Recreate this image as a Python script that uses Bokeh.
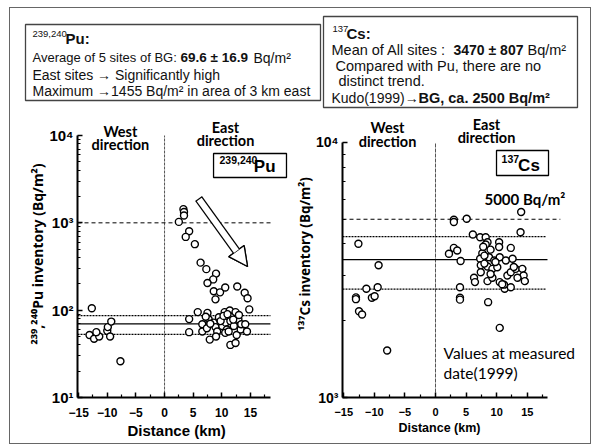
from bokeh.plotting import figure
from bokeh.layouts import column, row
from bokeh.models import (Range1d, Label, Arrow, NormalHead, FixedTicker,
                          CustomJSTickFormatter, BoxAnnotation, Title)
from bokeh.core.properties import value
from bokeh.embed import file_html
from bokeh.resources import INLINE

# ---------------- data ----------------
pu_dist = [-12.7, -13.1, -12.3, -11.4, -11.9, -10.0, -9.9, -9.3, -9.5, -7.7,
           3.3, 3.4, 3.4, 2.5, 4.3, 3.7, 5.3, 6.3, 7.3, 9.0,
           8.5, 7.5, 8.6, 9.7, 10.6, 8.9, 12.7, 14.0, 14.5, 14.8,
           4.3, 4.3, 5.8, 6.6, 6.6, 7.5, 7.7, 7.4, 7.9, 8.6,
           8.9, 9.2, 9.5, 10.1, 10.5, 10.7, 10.9, 10.6, 11.2, 11.4,
           11.6, 11.5, 11.5, 12.1, 12.4, 12.4, 12.6, 12.9, 13.3, 13.4,
           14.1, 14.4, 8.0, 9.8, 10.3, 11.0, 12.0, 13.0, 7.2, 9.0]
pu_inv = [105, 52, 47, 50, 56, 58, 64, 74, 50, 26,
          1435, 1330, 1215, 1025, 800, 690, 570, 350, 295, 262,
          225, 205, 165, 160, 182, 133, 187, 158, 137, 102,
          79, 56, 95, 69, 57, 93, 79, 62, 46, 72,
          64, 57, 83, 66, 95, 72, 60, 55, 57, 99,
          84, 75, 40, 66, 95, 42, 52, 79, 60, 69,
          69, 57, 70, 75, 86, 90, 78, 88, 84, 50]

cs_dist = [-12.6, -9.3, -11.3, -9.45, -13.0, -13.0, -10.4, -9.95, -12.5, -12.0, -7.9,
           3.0, 3.0, 5.1, 14.0, 13.9, 6.1, 7.3, 8.2, 8.5, 10.4,
           10.4, 8.2, 12.3, 3.0, 3.55, 2.2, 4.1, 7.65, 7.3, 8.75,
           9.6, 10.5, 11.5, 12.6, 7.4, 8.5, 9.3, 10.1, 7.4, 6.3,
           6.45, 8.5, 9.3, 10.5, 11.3, 12.3, 11.2, 11.75, 12.3, 13.1,
           14.2, 14.4, 14.6, 13.4, 4.0, 4.0, 4.0, 8.6, 10.5,
           8.0, 9.0, 9.8, 8.0, 7.8, 9.0, 12.8, 10.9]
cs_inv = [4010, 3300, 2670, 2705, 2470, 2430, 2460, 2495, 2180, 2115, 1529,
          4980, 4880, 5020, 5340, 4445, 4355, 4250, 4250, 4065, 4065,
          3890, 3980, 3860, 3860, 3770, 3660, 3430, 3680, 3500, 3550,
          3445, 3550, 3445, 3500, 3300, 3265, 3195, 3240, 3100, 2950,
          2835, 2860, 2950, 2835, 2670, 2705, 2770, 3010, 3100, 3195,
          3195, 3010, 2860, 2950, 2705, 2460, 2420, 2365, 1875,
          3600, 3800, 3400, 3350, 3900, 3050, 3250, 2780]

pu_bg_mean, pu_bg_sd, pu_guide, pu_max = 69.6, 16.9, 1000, 1455
cs_mean, cs_sd, cs_guide, cs_kudo = 3470, 807, 5000, 2500
x_ticks = [-15, -10, -5, 0, 5, 10, 15]

SANS = "Liberation Sans"
CAL = "Lato"

# ---------------- top text panel ----------------
top = figure(width=580, height=102, x_range=Range1d(0, 580), y_range=Range1d(102, 0),
             x_axis_type=None, y_axis_type=None, toolbar_location=None,
             output_backend="svg", min_border=0, outline_line_color=None)
top.quad(left=[15, 313], right=[310, 567], top=[16, 8], bottom=[92, 99],
         fill_color=None, line_color="#444444", line_width=1.3)


def txt(fig, x, y, s, size, bold=False, font=SANS):
    fig.text(x=[x], y=[y], text=[s], text_font=value(font),
             text_font_size=f"{size}px",
             text_font_style="bold" if bold else "normal",
             text_baseline="middle", text_align="left", text_color="#111111")


txt(top, 22, 25, "239,240", 9.5)
txt(top, 55, 30, "Pu:", 15, True)
txt(top, 22, 49, "Average of  5 sites of BG: ", 13)
txt(top, 170, 49, f"{pu_bg_mean} ± {pu_bg_sd}", 13.5, True)
txt(top, 243, 49, "Bq/m²", 14)
txt(top, 22, 66, "East sites →  Significantly high", 14)
txt(top, 22, 82, f"Maximum →{pu_max} Bq/m² in area of 3 km east", 14)

txt(top, 322, 20, "137", 9.5)
txt(top, 336, 25, "Cs:", 15, True)
txt(top, 321, 41, "Mean of  All sites :", 14.5)
txt(top, 443, 41, f"{cs_mean} ± {cs_sd}", 14, True)
txt(top, 517, 41, "Bq/m²", 14.5)
txt(top, 325, 57, "Compared with Pu, there are no", 14.5)
txt(top, 328, 72, "distinct trend.", 14.5)
txt(top, 321, 89, "Kudo(1999)→", 14)
txt(top, 408, 89, f"BG, ca. {cs_kudo} Bq/m²", 14.5, True)

# ---------------- plots ----------------
sup_fmt = CustomJSTickFormatter(code="""
const s = {0:'⁰',1:'¹',2:'²',3:'³',4:'⁴',5:'⁵'};
return '10' + s[Math.round(Math.log10(tick))];
""")


def style(p, ylabel, ymajor, yminor, xb, yb, lab_size, tick_size, xtick_size, xlab_size,
          xlab_offset, ylab_offset):
    p.xgrid.grid_line_color = None
    p.ygrid.grid_line_color = None
    p.outline_line_color = None
    p.xaxis.ticker = FixedTicker(ticks=x_ticks, minor_ticks=[t + 2.5 for t in x_ticks])
    p.yaxis.ticker = FixedTicker(ticks=ymajor, minor_ticks=yminor)
    p.yaxis.formatter = sup_fmt
    p.xaxis.bounds = xb
    p.yaxis.bounds = yb
    for ax in (p.xaxis[0], p.yaxis[0]):
        ax.axis_line_width = 2
        ax.axis_line_color = "black"
        ax.major_tick_in = 5
        ax.major_tick_out = 0
        ax.minor_tick_in = 3
        ax.minor_tick_out = 0
        ax.major_tick_line_width = 1.5
        ax.minor_tick_line_width = 1.2
        ax.major_label_text_font = SANS
        ax.major_label_text_font_style = "bold"
        ax.major_label_text_color = "black"
    p.xaxis.major_label_text_font_size = f"{xtick_size}px"
    p.yaxis.major_label_text_font_size = f"{tick_size}px"
    p.xaxis.major_label_standoff = 10
    p.yaxis.major_label_standoff = 4
    p.add_layout(Title(text="Distance  (km)", align="left", offset=xlab_offset, standoff=0,
                       text_font=SANS, text_font_size=f"{xlab_size}px",
                       text_font_style="bold", text_color="black"), "below")
    p.add_layout(Title(text=ylabel, align="center", offset=ylab_offset, standoff=0,
                       text_font="Noto Sans", text_font_size=f"{lab_size}px",
                       text_font_style="bold", text_color="black"), "left")


def minors(e0, e1):
    return [m * 10 ** e for e in range(e0, e1) for m in range(2, 10)]


def hline(p, xb, v, dash=None, width=1.2):
    kw = dict(line_color="black", line_width=width)
    if dash:
        kw["line_dash"] = dash
    p.segment(x0=[xb[0]], y0=[v], x1=[xb[1]], y1=[v], **kw)


# Pu plot
pu_xb, pu_yb = (-15.2, 18.5), (10, 10000)
pu = figure(width=280, height=333, x_range=Range1d(-15.2, 22.0), y_range=Range1d(10, 19335),
            y_axis_type="log", toolbar_location=None, output_backend="svg",
            min_border_left=67, min_border_right=0, min_border_top=0, min_border_bottom=46)
style(pu, "²³⁹,²⁴⁰Pu inventory (Bq/m²)", [10, 100, 1000, 10000], minors(1, 4),
      pu_xb, pu_yb, 14, 15, 12, 15, 50, 22)

pu.segment(x0=[0], y0=[pu_yb[0]], x1=[0], y1=[pu_yb[1]], line_color="#555555",
           line_width=1, line_dash="3 1")
hline(pu, (pu_xb[0], 18.9), pu_guide, "4 3", 1)
hline(pu, pu_xb, pu_bg_mean)
hline(pu, pu_xb, pu_bg_mean + pu_bg_sd, "2 1")
hline(pu, pu_xb, pu_bg_mean - pu_bg_sd, "2 1")

pu.scatter(pu_dist, pu_inv, marker="circle", size=7, fill_color="white",
           line_color="black", line_width=1.4)

# hollow arrow
ax0, ay0, ax1, ay1 = 5.94, 1897, 14.5, 316
pu.add_layout(Arrow(end=NormalHead(size=19, fill_color="white", line_color="black", line_width=1.3),
                    x_start=ax0, y_start=ay0, x_end=ax1, y_end=ay1,
                    line_width=8.5, line_color="black"))
pu.add_layout(Arrow(end=NormalHead(size=19, fill_color="white", line_color="black", line_width=1.3),
                    x_start=ax0 + 0.12, y_start=ay0 * 0.975, x_end=ax1, y_end=ay1,
                    line_width=6, line_color="white"))

for x, yo, t in [(-7.7, 4, "West"), (-7.7, -9, "direction"), (10.65, 8, "East"), (10.65, -5, "direction")]:
    pu.add_layout(Label(x=x, y=10000, y_offset=yo, text=t, text_align="center", text_baseline="middle",
                        text_font=CAL, text_font_size="14.5px", text_font_style="bold", text_color="black"))
pu.add_layout(BoxAnnotation(left=8.56, right=21.3, bottom=3304, top=6224, fill_color="white",
                            fill_alpha=1, line_color="black", line_alpha=1, line_width=1.3))
pu.add_layout(Label(x=9.6, y=5300, text="239,240", text_align="left", text_baseline="middle",
                    text_font=SANS, text_font_size="10.5px", text_font_style="bold", text_color="black"))
pu.add_layout(Label(x=15.6, y=4400, text="Pu", text_align="left", text_baseline="middle",
                    text_font=SANS, text_font_size="17px", text_font_style="bold", text_color="black"))

# Cs plot
cs_xb, cs_yb = (-15.2, 18.3), (1000, 10000)
cs = figure(width=300, height=333, x_range=Range1d(-15.2, 25.33), y_range=Range1d(1000, 13350),
            y_axis_type="log", toolbar_location=None, output_backend="svg",
            min_border_left=52, min_border_right=0, min_border_top=0, min_border_bottom=46)
style(cs, "¹³⁷Cs inventory (Bq/m²)", [1000, 10000], minors(3, 4),
      cs_xb, cs_yb, 13.5, 14, 11, 12.5, 56, 44)

cs.segment(x0=[0], y0=[cs_yb[0]], x1=[0], y1=[cs_yb[1]], line_color="#555555",
           line_width=1, line_dash="4 1")
hline(cs, (cs_xb[0], 20.4), cs_guide, "4 3", 1)
hline(cs, cs_xb, cs_mean)
hline(cs, (cs_xb[0], 18.0), cs_mean + cs_sd, "2 1")
hline(cs, (cs_xb[0], 18.0), cs_mean - cs_sd, "2 1")

cs.scatter(cs_dist, cs_inv, marker="circle", size=7, fill_color="white",
           line_color="black", line_width=1.4)

for x, yo, t in [(-7.84, 15, "West"), (-7.84, 1, "direction"), (8.33, 18, "East"), (8.33, 5, "direction")]:
    cs.add_layout(Label(x=x, y=10000, y_offset=yo, text=t, text_align="center", text_baseline="middle",
                        text_font=CAL, text_font_size="14.5px", text_font_style="bold", text_color="black"))
cs.add_layout(BoxAnnotation(left=9.97, right=18.47, bottom=7423, top=9303, fill_color="white",
                            fill_alpha=1, line_color="black", line_alpha=1, line_width=1.3))
cs.add_layout(Label(x=10.8, y=8650, text="137", text_align="left", text_baseline="middle",
                    text_font=SANS, text_font_size="10.5px", text_font_style="bold", text_color="black"))
cs.add_layout(Label(x=13.5, y=8150, text="Cs", text_align="left", text_baseline="middle",
                    text_font=SANS, text_font_size="17px", text_font_style="bold", text_color="black"))
cs.add_layout(Label(x=8.0, y=5977, text=f"{cs_guide} Bq/m²", text_align="left", text_baseline="middle",
                    text_font=CAL, text_font_size="15px", text_font_style="bold", text_color="black"))
cs.add_layout(Label(x=1.31, y=1488, text="Values at measured", text_align="left", text_baseline="middle",
                    text_font=CAL, text_font_size="15.5px", text_color="black"))
cs.add_layout(Label(x=1.31, y=1242, text="date(1999)", text_align="left", text_baseline="middle",
                    text_font=CAL, text_font_size="15.5px", text_color="black"))

layout = column(top, row(pu, cs),
                styles={"border": "1px solid #666666", "margin-left": "9px", "margin-top": "7px"})
open("out.html", "w").write(file_html(layout, INLINE))
